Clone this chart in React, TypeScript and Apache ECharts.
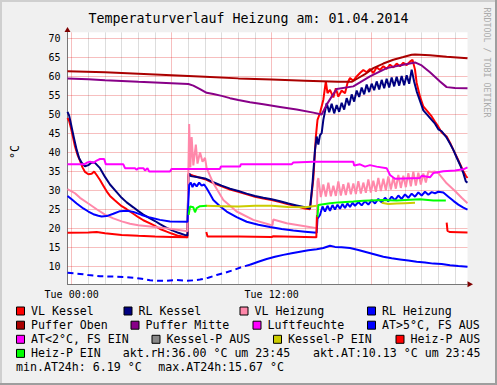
import React, { useEffect, useRef } from 'react';
import * as echarts from 'echarts';

// ---------- texts ----------
const TITLE = 'Temperaturverlauf Heizung am: 01.04.2014';
const Y_AXIS_NAME = '°C';
const WATERMARK = 'RRDTOOL / TOBI OETIKER';
const X_LABELS: Record<string, string> = { '0': 'Tue 00:00', '12': 'Tue 12:00' };
const Y_LABEL_TICKS = [10, 15, 20, 25, 30, 35, 40, 45, 50, 55, 60, 65, 70];
const HOUR_GRID = [0, 1, 2, 3, 4, 5, 6, 7, 8, 9, 10, 11, 12, 13, 14, 15, 16, 17, 18, 19, 20, 21, 22, 23];
const MAJOR_HOUR_GRID = [0, 6, 12, 18];
const AKT_RH = 'akt.rH:36.00 °C um 23:45';
const AKT_AT = 'akt.AT:10.13 °C um 23:45';
const MIN_AT = 'min.AT24h: 6.19 °C';
const MAX_AT = 'max.AT24h:15.67 °C';

// axis range (hours relative to Tue 00:00, °C)
const X_MIN = -0.25;
const X_MAX = 23.75;
const Y_MIN = 5.25;
const Y_MAX = 71.5;

// ---------- data: [hour, value] ----------
const vlKessel = [
  [-0.25, 49.0], [-0.15, 48.2], [-0.05, 46.5], [0.05, 44.5], [0.2, 41.5], [0.35, 39.3], [0.5, 37.8], [0.65, 36.0],
  [0.8, 34.8], [1.0, 34.2], [1.2, 34.3], [1.35, 34.9], [1.5, 34.0], [1.7, 32.7], [1.9, 31.2], [2.1, 29.7], [2.3, 28.5],
  [2.6, 27.3], [3.0, 25.8], [3.3, 25.0], [3.7, 23.8], [4.0, 22.9], [4.3, 22.1], [4.7, 21.3], [5.0, 20.6], [5.3, 19.8],
  [5.7, 19.1], [6.0, 18.6], [6.4, 18.0], [6.95, 17.6], [7.0, 34.3], [7.3, 33.8], [7.6, 33.4], [8.0, 32.9], [8.5, 31.9],
  [9.0, 31.0], [9.5, 30.2], [10.0, 29.6], [10.5, 28.9], [11.0, 28.3], [11.5, 27.8], [12.0, 27.4], [12.5, 26.9],
  [13.0, 26.3], [13.5, 25.8], [14.0, 25.2], [14.3, 25.0], [14.5, 33.0], [14.65, 44.0], [14.75, 48.5], [14.9, 50.3],
  [15.1, 53.8], [15.25, 58.6], [15.35, 55.5], [15.5, 56.4], [15.7, 54.4], [15.85, 56.8], [16.0, 54.6], [16.2, 56.2],
  [16.4, 55.5], [16.55, 58.2], [16.7, 59.5], [16.9, 58.8], [17.1, 59.9], [17.3, 60.8], [17.5, 61.6], [17.7, 61.0],
  [17.9, 61.9], [18.1, 60.8], [18.3, 62.3], [18.5, 61.6], [18.7, 62.6], [18.9, 61.9], [19.1, 63.0], [19.3, 62.3],
  [19.5, 63.3], [19.7, 62.6], [19.9, 63.5], [20.1, 62.9], [20.3, 63.8], [20.45, 64.3], [20.6, 61.7], [20.7, 58.2],
  [20.9, 54.6], [21.1, 52.0], [21.3, 51.0], [21.6, 49.4], [21.8, 48.0], [22.0, 46.7], [22.2, 45.2], [22.5, 44.1],
  [22.7, 42.5], [22.9, 40.6], [23.1, 38.8], [23.3, 36.9], [23.5, 35.0], [23.65, 33.8], [23.75, 33.2],
];

const rlKessel = [
  [-0.25, 50.6], [-0.15, 49.6], [-0.05, 47.6], [0.05, 45.5], [0.15, 43.5], [0.3, 40.6], [0.45, 38.4], [0.6, 37.2],
  [0.8, 36.3], [1.0, 36.6], [1.2, 37.3], [1.4, 37.2], [1.7, 35.8], [2.0, 33.5], [2.3, 31.5], [2.7, 29.5], [3.0, 28.0],
  [3.3, 26.8], [3.7, 25.5], [4.0, 24.5], [4.3, 23.6], [4.7, 22.6], [5.0, 21.9], [5.3, 21.1], [5.7, 20.1], [6.0, 19.5],
  [6.4, 18.8], [6.95, 18.0], [7.0, 33.4], [7.05, 34.4], [7.15, 33.7], [7.5, 33.5], [8.0, 33.1], [8.5, 32.1],
  [9.0, 31.2], [9.5, 30.4], [10.0, 29.8], [10.5, 29.1], [11.0, 28.5], [11.5, 28.0], [12.0, 27.6], [12.5, 27.1],
  [13.0, 26.5], [13.5, 26.0], [14.0, 25.5], [14.3, 25.2], [14.45, 31.8], [14.6, 40.6], [14.7, 44.1], [14.8, 42.0],
  [14.9, 44.5], [15.0, 45.0], [15.1, 48.5], [15.3, 52.9], [15.45, 50.5], [15.6, 52.7], [15.75, 50.2], [15.9, 52.4],
  [16.05, 50.6], [16.2, 53.0], [16.35, 51.2], [16.5, 54.2], [16.65, 52.3], [16.8, 55.2], [16.95, 53.3], [17.1, 56.2],
  [17.25, 54.5], [17.4, 57.0], [17.55, 55.2], [17.7, 57.8], [17.85, 55.8], [18.0, 58.0], [18.15, 56.3], [18.3, 58.6],
  [18.45, 56.5], [18.6, 59.0], [18.75, 56.8], [18.9, 59.3], [19.05, 57.0], [19.2, 59.6], [19.35, 57.3], [19.5, 59.8],
  [19.65, 57.5], [19.8, 60.0], [19.95, 57.6], [20.1, 60.2], [20.25, 58.0], [20.4, 61.7], [20.55, 58.5], [20.7, 56.0],
  [20.9, 53.5], [21.1, 51.0], [21.3, 50.0], [21.6, 48.5], [21.8, 47.5], [22.0, 46.0], [22.2, 45.5], [22.5, 43.8],
  [22.7, 42.3], [22.9, 40.6], [23.1, 38.6], [23.3, 36.7], [23.5, 34.5], [23.65, 32.3], [23.75, 32.0],
];

const vlHeizung = [
  [-0.25, 30.3], [0.2, 29.2], [0.5, 28.0], [1.0, 26.5], [1.5, 25.0], [2.0, 23.6], [2.5, 22.6], [3.0, 21.8],
  [3.5, 21.2], [4.0, 20.8], [5.0, 20.3], [6.0, 19.8], [6.95, 19.2], [7.0, 34.0], [7.05, 47.4], [7.12, 36.0],
  [7.2, 44.0], [7.3, 36.5], [7.45, 42.0], [7.55, 37.0], [7.7, 40.0], [7.85, 37.5], [8.0, 38.5], [8.1, 35.8],
  [8.5, 31.8], [9.1, 27.4], [9.9, 24.4], [10.9, 22.2], [11.9, 20.9], [12.05, 20.8], [12.1, 22.3], [12.9, 21.3],
  [13.9, 20.6], [14.7, 20.0], [14.75, 32.3], [14.8, 33.2], [14.95, 28.2], [15.1, 31.5], [15.25, 28.3], [15.4, 32.0],
  [15.55, 28.4], [15.7, 31.2], [15.85, 28.5], [16.0, 32.3], [16.15, 28.6], [16.3, 31.6], [16.45, 28.7], [16.6, 32.0],
  [16.75, 28.9], [16.9, 31.8], [17.05, 29.0], [17.2, 32.4], [17.35, 29.1], [17.5, 32.0], [17.65, 29.3], [17.8, 32.8],
  [17.95, 29.4], [18.1, 32.5], [18.25, 29.6], [18.4, 33.2], [18.55, 29.8], [18.7, 33.0], [18.85, 30.0], [19.0, 33.6],
  [19.15, 30.2], [19.3, 33.4], [19.45, 30.4], [19.6, 34.0], [19.75, 30.6], [19.9, 33.8], [20.05, 30.8], [20.2, 34.5],
  [20.35, 31.0], [20.5, 34.9], [20.65, 31.2], [20.8, 34.6], [20.95, 31.5], [21.1, 34.4], [21.25, 32.0], [21.4, 34.9],
  [21.6, 34.8], [21.8, 34.9], [22.0, 34.5], [22.5, 31.8], [23.0, 29.8], [23.4, 28.0], [23.75, 26.6],
];

const rlHeizung = [
  [-0.25, 28.5], [0.0, 27.6], [0.3, 26.5], [0.7, 25.2], [1.0, 24.4], [1.3, 23.7], [1.6, 23.3], [1.8, 23.1],
  [2.1, 23.2], [2.5, 23.8], [2.9, 24.5], [3.3, 24.6], [3.7, 24.3], [4.2, 23.5], [4.7, 22.8], [5.3, 22.2],
  [5.9, 21.8], [6.95, 21.7], [7.0, 27.0], [7.05, 31.4], [7.15, 32.0], [7.25, 30.8], [7.35, 31.8], [7.5, 31.0],
  [7.65, 32.0], [7.8, 31.2], [7.95, 31.5], [8.1, 30.5], [8.3, 29.0], [8.5, 27.4], [8.9, 25.8], [9.3, 24.4],
  [9.9, 22.9], [10.5, 21.7], [11.2, 20.9], [11.9, 20.3], [12.6, 19.8], [13.3, 19.4], [14.0, 19.1], [14.7, 18.8],
  [14.75, 22.5], [14.9, 23.5], [15.05, 25.7], [15.2, 24.4], [15.35, 25.9], [15.5, 24.6], [15.65, 26.1], [15.8, 24.9],
  [15.95, 26.2], [16.1, 25.1], [16.25, 26.4], [16.4, 25.3], [16.55, 26.5], [16.7, 25.6], [16.85, 26.7], [17.0, 25.9],
  [17.2, 26.9], [17.4, 26.0], [17.6, 27.1], [17.8, 26.2], [18.0, 27.4], [18.2, 26.5], [18.4, 27.7], [18.6, 26.8],
  [18.8, 28.0], [19.0, 27.1], [19.2, 28.3], [19.4, 27.4], [19.6, 28.6], [19.8, 27.7], [20.0, 28.9], [20.2, 28.0],
  [20.4, 29.1], [20.6, 28.3], [20.8, 29.4], [21.0, 28.6], [21.2, 29.6], [21.4, 28.8], [21.6, 29.5], [21.8, 29.2],
  [22.0, 29.6], [22.3, 29.4], [22.6, 28.3], [22.9, 27.2], [23.2, 26.2], [23.5, 25.4], [23.75, 24.9],
];

const pufferOben = [
  [-0.25, 61.3], [2, 61.0], [4, 60.6], [6, 60.2], [8, 59.8], [10, 59.4], [12, 59.1], [14, 58.8], [16.0, 58.5],
  [16.8, 58.5], [17.2, 59.5], [17.6, 60.5], [18.1, 62.1], [18.7, 63.3], [19.3, 64.3], [19.9, 65.0], [20.4, 65.6],
  [20.6, 65.7], [21.5, 65.5], [22.5, 65.1], [23.75, 64.7],
];

const pufferMitte = [
  [-0.25, 59.4], [1, 59.2], [2, 58.9], [3, 58.7], [4, 58.5], [5, 58.3], [6, 58.1], [7.0, 57.9], [7.3, 57.5],
  [7.7, 56.6], [8.1, 55.6], [8.5, 55.3], [9.0, 54.8], [9.5, 54.2], [10.0, 53.7], [10.7, 53.1], [11.5, 52.6],
  [12.5, 51.9], [13.5, 51.2], [14.5, 50.4], [15.0, 49.9], [15.3, 52.5], [15.6, 54.6], [15.9, 56.6], [16.9, 57.3],
  [17.9, 59.9], [18.9, 62.1], [19.9, 63.0], [20.6, 63.6], [21.0, 62.8], [21.5, 61.0], [22.1, 58.6], [22.5, 57.1],
  [23.0, 56.9], [23.75, 56.8],
];

const luftfeuchte = [
  [-0.25, 36.8], [0.75, 36.8], [0.9, 37.2], [1.1, 37.5], [1.3, 37.2], [1.5, 37.8], [1.7, 38.2], [1.95, 38.2],
  [2.05, 36.8], [3.1, 36.8], [3.2, 35.8], [3.8, 35.8], [3.9, 35.4], [4.0, 35.8], [4.3, 35.8], [4.4, 35.2],
  [4.55, 35.8], [4.65, 34.9], [5.9, 34.9], [6.0, 35.6], [8.9, 35.6], [8.95, 36.2], [10.1, 36.2], [10.15, 36.8],
  [13.2, 36.8], [13.3, 37.3], [14.5, 37.5], [16.9, 37.5], [16.95, 36.5], [17.3, 36.8], [17.6, 36.2], [17.9, 36.6],
  [18.3, 36.2], [18.9, 35.8], [19.1, 34.0], [19.4, 33.0], [20.9, 33.2], [21.0, 33.8], [21.5, 33.4], [21.7, 34.5],
  [22.3, 35.0], [23.0, 35.2], [23.5, 35.5], [23.75, 36.0],
];

const atTemp = [
  [-0.25, 8.3], [0.5, 8.0], [1.0, 7.7], [1.7, 7.4], [2.5, 7.3], [3.2, 7.2], [3.7, 7.0], [4.2, 6.7], [4.7, 6.3],
  [5.2, 6.2], [5.7, 6.2], [6.3, 6.4], [6.9, 6.2], [7.3, 6.3], [7.7, 6.5], [8.2, 7.0], [8.7, 7.7], [9.2, 8.3],
  [9.7, 9.0], [10.2, 9.8], [10.7, 10.4], [11.2, 11.2], [11.7, 11.9], [12.2, 12.5], [12.7, 13.0], [13.2, 13.4],
  [13.7, 13.8], [14.2, 14.2], [14.7, 14.5], [15.1, 14.8], [15.5, 15.4], [15.8, 15.1], [16.2, 15.0], [16.7, 14.8],
  [17.2, 14.3], [17.7, 13.7], [18.2, 13.1], [18.7, 12.5], [19.2, 12.1], [19.7, 11.8], [20.2, 11.5], [20.7, 11.2],
  [21.2, 11.0], [21.7, 10.7], [22.2, 10.6], [22.7, 10.3], [23.2, 10.1], [23.75, 9.9],
];
const AT_DASH_END = 10.7;

const atCold: number[][] = [];
const kesselPAus: number[][] = [];

const kesselPEin = [
  [8.05, 25.9], [9.0, 25.8], [10.0, 25.7], [11.0, 25.9], [12.0, 25.9], [13.0, 25.6], [14.0, 25.5], [14.7, 25.9],
  [14.75, null], [18.6, 26.7], [19.0, 26.4], [19.5, 26.5], [20.0, 26.6], [20.6, 26.7],
];

const heizPAus = [
  [-0.25, 18.8], [1.0, 18.9], [1.5, 19.0], [2.0, 18.7], [3.0, 18.2], [4.0, 18.0], [5.0, 17.8], [6.0, 17.7],
  [6.95, 17.6], [7.0, null], [8.08, 19.0], [8.15, 17.8], [10.0, 17.8], [12.0, 17.7], [12.1, 17.9], [14.0, 17.7],
  [14.68, 17.6], [14.72, 23.5], [14.75, null], [22.5, 21.5], [22.55, 19.3], [22.7, 19.0], [23.75, 18.9],
];

const heizPEin = [
  [7.02, 23.5], [7.1, 25.7], [7.3, 25.5], [7.4, 24.2], [7.5, 25.3], [7.7, 25.8], [8.1, 25.9], [8.15, null],
  [14.75, 23.0], [14.8, 26.1], [15.5, 26.6], [16.0, 26.8], [16.9, 27.0], [17.5, 27.2], [18.7, 27.4], [19.5, 27.3],
  [20.3, 27.5], [20.9, 27.6], [21.7, 27.3], [22.45, 27.3],
];

const SERIES = [
  { name: 'VL Kessel', color: '#FF0000', data: vlKessel },
  { name: 'RL Kessel', color: '#000080', data: rlKessel },
  { name: 'VL Heizung', color: '#FF88AA', data: vlHeizung },
  { name: 'RL Heizung', color: '#0000FF', data: rlHeizung },
  { name: 'Puffer Oben', color: '#AA0000', data: pufferOben },
  { name: 'Puffer Mitte', color: '#880088', data: pufferMitte },
  { name: 'Luftfeuchte', color: '#FF00FF', data: luftfeuchte },
  { name: 'AT>5°C, FS AUS', color: '#0000FF', data: atTemp },
  { name: 'AT<2°C, FS EIN', color: '#FF00FF', data: atCold },
  { name: 'Kessel-P AUS', color: '#888888', data: kesselPAus },
  { name: 'Kessel-P EIN', color: '#CCCC00', data: kesselPEin },
  { name: 'Heiz-P AUS', color: '#FF0000', data: heizPAus },
  { name: 'Heiz-P EIN', color: '#00FF00', data: heizPEin },
];

// legend layout: text left x and row
const LEGEND_LAYOUT = [
  { name: 'VL Kessel', x: 31, row: 0 }, { name: 'RL Kessel', x: 138.5, row: 0 },
  { name: 'VL Heizung', x: 254.5, row: 0 }, { name: 'RL Heizung', x: 382, row: 0 },
  { name: 'Puffer Oben', x: 31, row: 1 }, { name: 'Puffer Mitte', x: 145.5, row: 1 },
  { name: 'Luftfeuchte', x: 267.5, row: 1 }, { name: 'AT>5°C, FS AUS', x: 382, row: 1 },
  { name: 'AT<2°C, FS EIN', x: 31, row: 2 }, { name: 'Kessel-P AUS', x: 166.5, row: 2 },
  { name: 'Kessel-P EIN', x: 288, row: 2 }, { name: 'Heiz-P AUS', x: 410.5, row: 2 },
  { name: 'Heiz-P EIN', x: 31, row: 3 },
];
const ROW_Y = [311, 325.2, 339.3, 353.4, 367.3];

const FONT = "'DejaVu Sans Mono', monospace";

export default function App() {
  const ref = useRef<HTMLDivElement>(null);

  useEffect(() => {
    document.body.style.margin = '0';
    if (!ref.current) return;
    const chart = echarts.init(ref.current, undefined, { renderer: 'svg' });

    const lineSeries: any[] = [];
    SERIES.forEach((s, i) => {
      const base = {
        type: 'line',
        name: s.name,
        showSymbol: false,
        symbol: 'none',
        connectNulls: false,
        silent: true,
        animation: false,
        z: 2 + i * 0.01,
        itemStyle: { color: s.color },
      };
      if (s.name.startsWith('AT>5')) {
        lineSeries.push({
          ...base,
          data: s.data.filter((p: any) => p[0] <= AT_DASH_END),
          lineStyle: { color: s.color, width: 2, type: [6, 4] },
        });
        lineSeries.push({
          ...base,
          data: s.data.filter((p: any) => p[0] >= AT_DASH_END),
          lineStyle: { color: s.color, width: 2 },
        });
      } else {
        lineSeries.push({ ...base, data: s.data, lineStyle: { color: s.color, width: 2 } });
      }
    });

    const minorStyle = { color: 'rgba(150,150,150,0.32)', width: 1, type: 'solid' };
    const majorStyle = { color: 'rgba(225,0,0,0.25)', width: 1, type: 'solid' };

    const gridSeries = {
      type: 'line',
      name: '_grid',
      data: [[X_MIN, null]],
      silent: true,
      showSymbol: false,
      z: 1,
      markLine: {
        z: 1,
        silent: true,
        animation: false,
        symbol: ['none', 'none'],
        label: { show: false },
        data: [
          ...HOUR_GRID.filter((h) => !MAJOR_HOUR_GRID.includes(h)).map((h) => ({ xAxis: h, lineStyle: minorStyle })),
          ...MAJOR_HOUR_GRID.map((h) => ({ xAxis: h, lineStyle: majorStyle })),
          ...Y_LABEL_TICKS.map((v) => ({ yAxis: v, lineStyle: majorStyle })),
        ],
      },
    };

    const legendGraphics: any[] = [];
    LEGEND_LAYOUT.forEach((item) => {
      const s = SERIES.find((d) => d.name === item.name)!;
      const y = ROW_Y[item.row];
      legendGraphics.push({
        type: 'rect',
        shape: { x: item.x - 14.5, y: y - 4, width: 8, height: 8 },
        style: { fill: s.color, stroke: '#000', lineWidth: 1 },
      });
      legendGraphics.push({
        type: 'text',
        x: item.x,
        y,
        style: { text: item.name, fill: '#000', font: `11.6px ${FONT}`, verticalAlign: 'middle', align: 'left' },
      });
    });
    const infoTexts = [
      { text: AKT_RH, x: 122.7, row: 3 },
      { text: AKT_AT, x: 313, row: 3 },
      { text: MIN_AT, x: 16, row: 4 },
      { text: MAX_AT, x: 158.3, row: 4 },
    ];
    infoTexts.forEach((t) => {
      legendGraphics.push({
        type: 'text',
        x: t.x,
        y: ROW_Y[t.row],
        style: { text: t.text, fill: '#000', font: `11.6px ${FONT}`, verticalAlign: 'middle', align: 'left' },
      });
    });

    const option: any = {
      animation: false,
      backgroundColor: '#F0F0F0',
      title: {
        text: TITLE,
        left: 'center',
        top: 6.5,
        textStyle: { fontFamily: FONT, fontSize: 13.3, fontWeight: 'normal', color: '#000' },
      },
      grid: {
        left: 67.5,
        top: 32.35,
        width: 400,
        height: 252,
        show: true,
        backgroundColor: '#FFFFFF',
        borderWidth: 0,
      },
      xAxis: {
        type: 'value',
        min: X_MIN,
        max: X_MAX,
        interval: 0.25,
        axisLine: { show: true, onZero: false, lineStyle: { color: '#777', width: 1 } },
        axisTick: { show: false },
        splitLine: { show: false },
        axisLabel: {
          margin: 5,
          fontFamily: FONT,
          fontSize: 10,
          color: '#000',
          showMinLabel: false,
          showMaxLabel: false,
          formatter: (v: number) => {
            const key = String(Math.round(v * 100) / 100);
            return X_LABELS[key] ?? '';
          },
        },
      },
      yAxis: {
        type: 'value',
        min: Y_MIN,
        max: Y_MAX,
        interval: 0.25,
        axisLine: { show: true, onZero: false, lineStyle: { color: '#777', width: 1 } },
        axisTick: { show: false },
        splitLine: { show: false },
        axisLabel: {
          margin: 7,
          fontFamily: FONT,
          fontSize: 10,
          color: '#000',
          showMinLabel: false,
          showMaxLabel: false,
          formatter: (v: number) => {
            const r = Math.round(v * 100) / 100;
            return Y_LABEL_TICKS.includes(r) ? String(r) : '';
          },
        },
      },
      series: [gridSeries, ...lineSeries],
      graphic: [
        // frame shading
        { type: 'rect', shape: { x: 0, y: 0, width: 497, height: 2 }, style: { fill: '#CFCFCF' } },
        { type: 'rect', shape: { x: 0, y: 0, width: 2, height: 385 }, style: { fill: '#CFCFCF' } },
        { type: 'rect', shape: { x: 0, y: 383, width: 497, height: 2 }, style: { fill: '#9E9E9E' } },
        { type: 'rect', shape: { x: 495, y: 0, width: 2, height: 385 }, style: { fill: '#9E9E9E' } },
        // axis arrows
        { type: 'polygon', shape: { points: [[64.5, 32], [70.5, 32], [67.5, 27]] }, style: { fill: '#7F0000' } },
        { type: 'polygon', shape: { points: [[467.5, 281.3], [467.5, 287.3], [473, 284.3]] }, style: { fill: '#7F0000' } },
        // y axis name
        {
          type: 'text',
          x: 15,
          y: 152,
          rotation: Math.PI / 2,
          style: { text: Y_AXIS_NAME, fill: '#000', font: `11.6px ${FONT}`, align: 'center', verticalAlign: 'middle' },
        },
        // watermark
        {
          type: 'text',
          x: 486.5,
          y: 62.5,
          rotation: -Math.PI / 2,
          style: { text: WATERMARK, fill: '#ABABAB', font: `8.3px ${FONT}`, align: 'center', verticalAlign: 'middle' },
        },
        ...legendGraphics,
      ],
    };

    chart.setOption(option);
    return () => chart.dispose();
  }, []);

  return <div ref={ref} style={{ width: 497, height: 385 }} />;
}
